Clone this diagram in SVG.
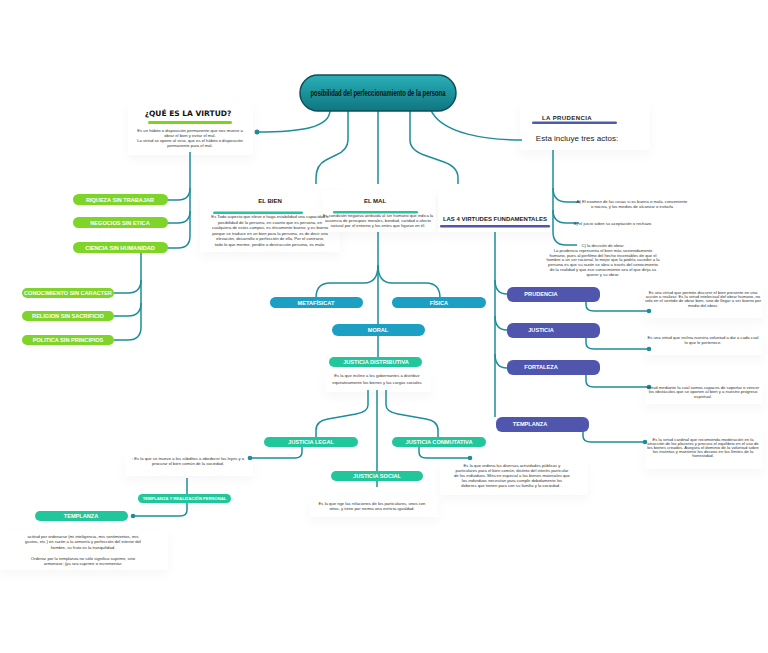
<svg xmlns="http://www.w3.org/2000/svg" width="768" height="653" viewBox="0 0 768 653">
<defs>
<linearGradient id="tg" x1="0" y1="0" x2="0" y2="1">
<stop offset="0" stop-color="#2ab0b8"/>
<stop offset="1" stop-color="#0f7580"/>
</linearGradient>
<filter id="sh" x="-20%" y="-30%" width="140%" height="180%">
<feDropShadow dx="0" dy="5" stdDeviation="5" flood-color="#000" flood-opacity="0.03"/>
</filter>
</defs>
<style>
.c{fill:none;stroke:#1d8d9b;stroke-width:1.5}
.dot{fill:#1d8d9b}
.box{fill:#fff;filter:url(#sh)}
.p{font-family:"Liberation Sans",Arial,sans-serif;font-weight:bold;font-size:5.6px;fill:#fff;text-anchor:middle}
.d{font-family:"Liberation Sans",Arial,sans-serif;font-size:4.2px;fill:#333;text-anchor:middle}
.h{font-family:"Liberation Sans",Arial,sans-serif;font-weight:bold;font-size:6px;fill:#222;text-anchor:middle}
.lime{fill:#7fd42a}
.mint{fill:#21c69b}
.blue{fill:#1b9fc2}
.ind{fill:#5055ad}
</style>
<rect width="768" height="653" fill="#fff"/>

<g id="boxes">
<rect class="box" x="128" y="100" width="125" height="55"/>
<rect class="box" x="200" y="190" width="140" height="62"/>
<rect class="box" x="322" y="190" width="114" height="42"/>
<rect class="box" x="438" y="190" width="120" height="42"/>
<rect class="box" x="520" y="105" width="130" height="45"/>
<rect class="box" x="645" y="284" width="118" height="34"/>
<rect class="box" x="645" y="331" width="118" height="24"/>
<rect class="box" x="645" y="380" width="118" height="24"/>
<rect class="box" x="645" y="433" width="118" height="36"/>
<rect class="box" x="325" y="370" width="106" height="22"/>
<rect class="box" x="125" y="452" width="128" height="24"/>
<rect class="box" x="440" y="461" width="148" height="34"/>
<rect class="box" x="310" y="497" width="128" height="20"/>
<rect class="box" x="0" y="530" width="168" height="40"/>
</g>

<g id="connectors">
<path class="c" d="M330,110 C330,128 300,132 257,132"/>
<path class="c" d="M348,111 V140 Q348,150 336,155 L326,160 Q316,165 316,178 V184"/>
<path class="c" d="M378,111 V184"/>
<path class="c" d="M410,110 V140 Q410,150 424,155 L444,162 Q458,167 458,178 V184"/>
<path class="c" d="M430,108 C440,135 490,140 522,140"/>
<path class="c" d="M190,152 V236"/>
<path class="c" d="M167,200 H178 Q190,200 190,188"/>
<path class="c" d="M167,223 H178 Q190,223 190,211"/>
<path class="c" d="M167,248 H178 Q190,248 190,236"/>
<path class="c" d="M141,253 V327"/>
<path class="c" d="M114,293 H128 Q141,293 141,280"/>
<path class="c" d="M114,316 H128 Q141,316 141,303"/>
<path class="c" d="M114,340 H128 Q141,340 141,327"/>
<path class="c" d="M553,150 V232"/>
<path class="c" d="M553,188 Q553,202 567,202 H580"/>
<path class="c" d="M553,210 Q553,223 566,223 H579"/>
<path class="c" d="M553,232 Q553,245 566,245 H577"/>
<path class="c" d="M495,232 V417"/>
<path class="c" d="M495,280 Q495,294 507,294"/>
<path class="c" d="M495,316 Q495,330 507,330"/>
<path class="c" d="M495,354 Q495,368 507,368"/>
<path class="c" d="M586,302 V305 Q586,311 594,311 H649"/>
<path class="c" d="M586,338 V343 Q586,349 594,349 H649"/>
<path class="c" d="M586,375 V381 Q586,387 594,387 H649"/>
<path class="c" d="M583,432 V436 Q583,442 591,442 H645"/>
<path class="c" d="M378,232 V324"/>
<path class="c" d="M378,265 Q378,283 364,283 H330 Q316,283 316,298"/>
<path class="c" d="M378,265 Q378,283 392,283 H426 Q440,283 440,298"/>
<path class="c" d="M378,336 V357"/>
<path class="c" d="M368,390 V405 Q368,412 356,414 L328,419 Q316,421 316,430 V437"/>
<path class="c" d="M386,390 V405 Q386,412 398,414 L426,419 Q438,421 438,430 V437"/>
<path class="c" d="M377,390 V471"/>
<path class="c" d="M377,481 V487"/>
<path class="c" d="M302,447 V452 Q302,458 295,458 H250"/>
<path class="c" d="M419,447 V452 Q419,458 426,458 H470"/>
<path class="c" d="M187,478 V494"/>
<path class="c" d="M187,503 V510 Q187,516 180,516 H133"/>
<circle class="dot" cx="257" cy="132" r="2.5"/>
<circle class="dot" cx="649" cy="311" r="2.3"/>
<circle class="dot" cx="649" cy="349" r="2.3"/>
<circle class="dot" cx="649" cy="387" r="2.3"/>
<circle class="dot" cx="645" cy="442" r="2.3"/>
<circle class="dot" cx="250" cy="458" r="2.3"/>
<circle class="dot" cx="470" cy="458" r="2.3"/>
<circle class="dot" cx="133" cy="516" r="2.3"/>
</g>

<g id="title">
<rect x="300" y="75" width="156" height="36" rx="18" fill="url(#tg)" stroke="#0b5058" stroke-width="1.5"/>
<text x="378" y="96" font-family="Liberation Sans, Arial, sans-serif" font-weight="bold" font-size="9.5" fill="#111" text-anchor="middle" textLength="135" lengthAdjust="spacingAndGlyphs">posibilidad del perfeccionamiento de la persona</text>
</g>

<g id="virtud">
<text x="188" y="116" font-family="DejaVu Sans, sans-serif" font-weight="bold" font-size="7.5" fill="#111" text-anchor="middle">¿QUÉ ES LA VIRTUD?</text>
<rect x="148" y="121" width="84" height="3" rx="1.5" fill="#7ed321"/>
<text class="d" x="190" y="132">Es un hábito o disposición permanente que nos mueve a</text>
<text class="d" x="190" y="137">obrar el bien y evitar el mal.</text>
<text class="d" x="190" y="142">La virtud se opone al vicio, que es el hábito o disposición</text>
<text class="d" x="190" y="147">permanente para el mal.</text>
</g>

<g id="riqueza"><rect class="lime" x="73" y="194" width="95" height="11" rx="5.5"/><text class="p" x="120" y="201.8">RIQUEZA SIN TRABAJAR</text></g>
<g id="negocios"><rect class="lime" x="73" y="217" width="95" height="11" rx="5.5"/><text class="p" x="120" y="224.8">NEGOCIOS SIN ETICA</text></g>
<g id="ciencia"><rect class="lime" x="73" y="242" width="95" height="11" rx="5.5"/><text class="p" x="120" y="249.8">CIENCIA SIN HUMANIDAD</text></g>
<g id="conocimiento"><rect class="lime" x="22" y="288" width="92" height="10" rx="5"/><text class="p" x="68" y="295.2">CONOCIMIENTO SIN CARACTER</text></g>
<g id="religion"><rect class="lime" x="22" y="311" width="92" height="10" rx="5"/><text class="p" x="68" y="318.2">RELIGION SIN SACRIFICIO</text></g>
<g id="politica"><rect class="lime" x="22" y="335" width="92" height="10" rx="5"/><text class="p" x="68" y="342.2">POLITICA SIN PRINCIPIOS</text></g>

<g id="bien">
<text class="h" x="270" y="203">EL BIEN</text>
<rect x="213" y="211.5" width="90" height="2.5" rx="1.2" fill="#21c69b"/>
<text class="d" x="270" y="218">Es Todo aspecto que eleve o haga estabilidad una capacidad o</text>
<text class="d" x="270" y="223.5">posibilidad de la persona, en cuanto que es persona, en</text>
<text class="d" x="270" y="229">cualquiera de estos campos, es éticamente bueno, y es bueno</text>
<text class="d" x="270" y="234.5">porque se traduce en un bien para la persona, es de decir una</text>
<text class="d" x="270" y="240">elevación, desarrollo o perfección de ella. Por el contrario,</text>
<text class="d" x="270" y="245.5">todo lo que merme, perdite o destrucción persona, es malo.</text>
</g>

<g id="mal">
<text class="h" x="375" y="203">EL MAL</text>
<rect x="333" y="211" width="85" height="2.5" rx="1.2" fill="#21c69b"/>
<text class="d" x="378" y="217">Es condición negativa atribuida al ser humano que indica la</text>
<text class="d" x="378" y="222">ausencia de principios morales, bondad, caridad o afecto</text>
<text class="d" x="378" y="227">natural por el entorno y los entes que figuran en él.</text>
</g>

<g id="virtudes">
<text class="h" x="495" y="221" font-size="6.8">LAS 4 VIRTUDES FUNDAMENTALES</text>
<rect x="440" y="225" width="110" height="2.5" rx="1.2" fill="#5055ad"/>
</g>

<g id="prudencia-top">
<text class="h" x="567" y="120" font-size="5.8" letter-spacing="0.4">LA PRUDENCIA</text>
<rect x="532" y="121.5" width="85" height="2.5" rx="1.2" fill="#4a5cab"/>
<text x="577" y="141" font-family="Liberation Sans, Arial, sans-serif" font-size="8" fill="#222" text-anchor="middle">Esta incluye tres actos:</text>
</g>

<g id="actoA">
<text class="d" x="632" y="203">A) El examen de las cosas si es buena o mala, conveniente</text>
<text class="d" x="632" y="208">o nociva, y los medios de alcanzar o evitarla</text>
</g>
<g id="actoB"><text class="d" x="613" y="225">B) el juicio sobre su aceptación o rechazo.</text></g>
<g id="actoC">
<text class="d" x="603" y="247">C) la decisión de obrar.</text>
<text class="d" x="603" y="252">La prudencia representa el bien más sostenidamente</text>
<text class="d" x="603" y="256.7">humano, pues al perfilmo del hecho incontables de que el</text>
<text class="d" x="603" y="261.4">hombre a un ser racional, lo mejor que la podría suceder a la</text>
<text class="d" x="603" y="266.1">persona es que su razón se abra a través del conocimiento</text>
<text class="d" x="603" y="270.8">de la realidad y que ese conocimiento sea el que dirija su</text>
<text class="d" x="603" y="275.5">querer y su obrar.</text>
</g>

<g id="prudencia"><rect class="ind" x="507" y="287" width="93" height="15" rx="6"/><text class="p" x="541" y="296">PRUDENCIA</text></g>
<g id="justicia"><rect class="ind" x="507" y="323" width="93" height="15" rx="6"/><text class="p" x="541" y="332">JUSTICIA</text></g>
<g id="fortaleza"><rect class="ind" x="507" y="360" width="93" height="15" rx="6"/><text class="p" x="541" y="369">FORTALEZA</text></g>
<g id="templanza-r"><rect class="ind" x="496" y="417" width="93" height="15" rx="6"/><text class="p" x="530" y="426">TEMPLANZA</text></g>

<g id="d-prudencia">
<text class="d" x="703" y="294">Es una virtud que permite discurrir el bien presente en una</text>
<text class="d" x="703" y="298.2">acción a realizar. Es la virtud intelectual del obrar humano, no</text>
<text class="d" x="703" y="302.4">solo en el sentido de obrar bien, sino de llegar a ser bueno por</text>
<text class="d" x="703" y="306.6">medio del obrar.</text>
</g>
<g id="d-justicia">
<text class="d" x="703" y="339">Es una virtud que inclina nuestra voluntad a dar a cada cual</text>
<text class="d" x="703" y="344">lo que le pertenece.</text>
</g>
<g id="d-fortaleza">
<text class="d" x="703" y="389">Virtud mediante la cual somos capaces de soportar o vencer</text>
<text class="d" x="703" y="393.3">los obstáculos que se oponen al bien y a nuestro progreso</text>
<text class="d" x="703" y="397.6">espiritual.</text>
</g>
<g id="d-templanza">
<text class="d" x="703" y="441">Es la virtud cardinal que recomienda moderación en la</text>
<text class="d" x="703" y="445">atracción de los placeres y procura el equilibrio en el uso de</text>
<text class="d" x="703" y="449">los bienes creados. Asegura el dominio de la voluntad sobre</text>
<text class="d" x="703" y="453">los instintos y mantiene los deseos en los límites de la</text>
<text class="d" x="703" y="457">honestidad.</text>
</g>

<g id="metafisica"><rect class="blue" x="270" y="297" width="93" height="11" rx="5.5"/><text class="p" x="316" y="304.8">METAFÍSICAT</text></g>
<g id="fisica"><rect class="blue" x="392" y="297" width="94" height="11" rx="5.5"/><text class="p" x="439" y="304.8">FÍSICA</text></g>
<g id="moral"><rect class="blue" x="332" y="324" width="93" height="12" rx="6"/><text class="p" x="378" y="332.2">MORAL</text></g>

<g id="distributiva">
<rect class="mint" x="329" y="357" width="93" height="10" rx="5"/><text class="p" x="376" y="364.2">JUSTICIA DISTRIBUTIVA</text>
<text class="d" x="377" y="377">Es la que incline a los gobernantes a distribuir</text>
<text class="d" x="377" y="383.5">equitativamente los bienes y las cargas sociales</text>
</g>
<g id="legal"><rect class="mint" x="264" y="437" width="94" height="10" rx="5"/><text class="p" x="311" y="444.2">JUSTICIA LEGAL</text></g>
<g id="conmutativa"><rect class="mint" x="392" y="437" width="94" height="10" rx="5"/><text class="p" x="439" y="444.2">JUSTICIA CONMUTATIVA</text></g>
<g id="social"><rect class="mint" x="331" y="471" width="92" height="10" rx="5"/><text class="p" x="377" y="478.2">JUSTICIA SOCIAL</text></g>

<g id="d-legal">
<text class="d" x="188" y="459.5">: Es la que se mueve a los súbditos a obedecer las leyes y a</text>
<text class="d" x="188" y="465">procurar el bien común de la sociedad.</text>
</g>
<g id="d-conmutativa">
<text class="d" x="512" y="467">Es la que ordena las diversas actividades públicas y</text>
<text class="d" x="512" y="472">particulares para el bien común, distinto del interés particular</text>
<text class="d" x="512" y="477">de los individuos. Mira en especial a los bienes materiales que</text>
<text class="d" x="512" y="482">los individuos necesitan para cumplir debidamente los</text>
<text class="d" x="512" y="487">deberes que tienen para con su familia y la sociedad. .</text>
</g>
<g id="d-social">
<text class="d" x="372" y="505">Es la que rige las relaciones de los particulares, unos con</text>
<text class="d" x="372" y="510">otros, y tiene por norma una estricta igualdad.</text>
</g>

<g id="realizacion"><rect class="mint" x="138" y="494" width="93" height="9" rx="4.5"/><text x="184.5" y="500.3" font-family="Liberation Sans, Arial, sans-serif" font-weight="bold" font-size="4.2" fill="#fff" text-anchor="middle">TEMPLANZA Y REALIZACIÓN PERSONAL</text></g>
<g id="templanza-l"><rect class="mint" x="35" y="511" width="93" height="10" rx="5"/><text class="p" x="81" y="518.2">TEMPLANZA</text></g>
<g id="d-templanza-l">
<text class="d" x="83" y="537.5">actitud por ordenarse (mi inteligencia, mis sentimientos, mis</text>
<text class="d" x="83" y="543">gustos, etc.) en razón a la armonía y perfección del interior del</text>
<text class="d" x="83" y="548.5">hombre, su fruto es la tranquilidad.</text>
<text class="d" x="83" y="559.5">Ordenar por la templanza no sólo significa suprimir, sino</text>
<text class="d" x="83" y="565">armonizar; (ya sea suprimir o incrementar.</text>
</g>
</svg>
